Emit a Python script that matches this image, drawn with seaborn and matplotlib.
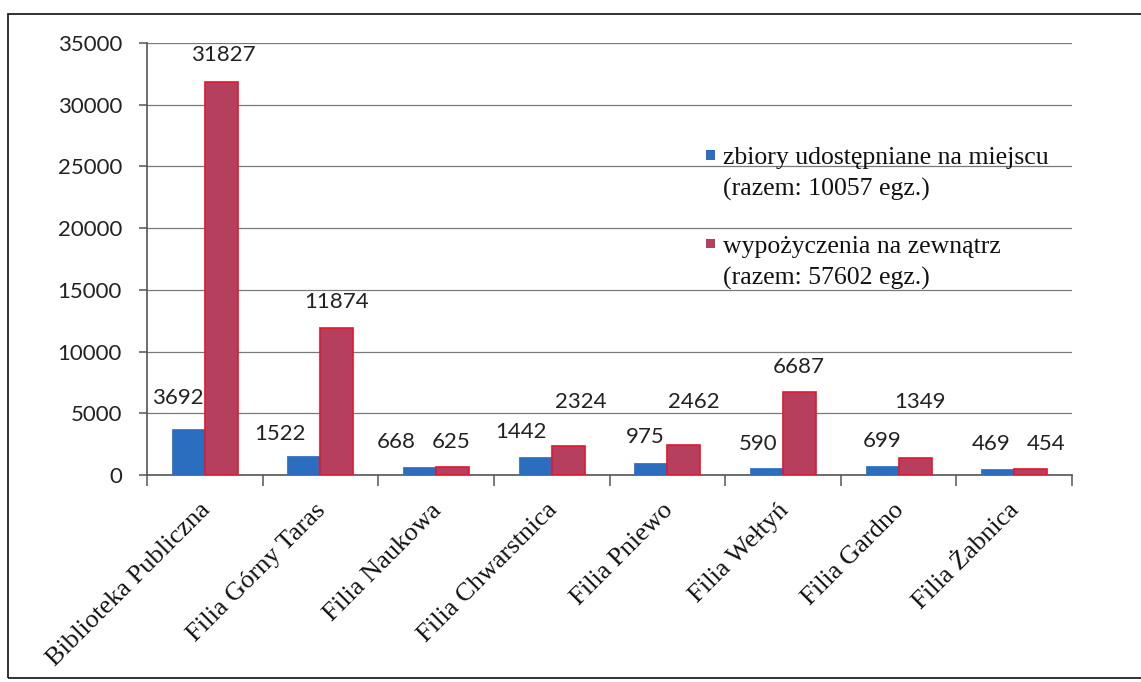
import numpy as np
import pandas as pd
import matplotlib
matplotlib.use("Agg")
import matplotlib.pyplot as plt
import matplotlib.transforms as mtransforms
from matplotlib.patches import Rectangle
from matplotlib.legend_handler import HandlerPatch
import seaborn as sns

# ---- data ----
categories = ["Biblioteka Publiczna", "Filia Górny Taras", "Filia Naukowa",
              "Filia Chwarstnica", "Filia Pniewo", "Filia Wełtyń",
              "Filia Gardno", "Filia Żabnica"]
onsite = [3692, 1522, 668, 1442, 975, 590, 699, 469]
loans = [31827, 11874, 625, 2324, 2462, 6687, 1349, 454]
series_names = ["zbiory udostępniane na miejscu\n(razem: 10057 egz.)",
                "wypożyczenia na zewnątrz\n(razem: 57602 egz.)"]
yticks = [0, 5000, 10000, 15000, 20000, 25000, 30000, 35000]

# ---- style (label offsets in pixels, relative to bar top) ----
lbl_dx = [[-11, -24, -23, -14, -6, -8, 0, -7],
          [2, 0, -1, 13, 10, -1, 5, 15]]
lbl_dy = [[31, 22, 25, 25, 26, 24, 25, 25],
          [27, 26, 25, 44, 43, 25, 56, 25]]
BLUE = "#2b6dbf"
RED = "#b53f5d"
SERIF = "Liberation Serif"
SANS = "Lato"
NUM_SIZE = 16
SERIF_SIZE = 18.5
XLAB_SIZE = 19

sns.set_theme(style="white")
plt.rcParams["font.family"] = ["DejaVu Sans"]

df = pd.DataFrame({
    "placowka": categories * 2,
    "liczba": onsite + loans,
    "rodzaj": [series_names[0]] * len(categories) + [series_names[1]] * len(categories),
})

fig = plt.figure(figsize=(11.41, 6.82), dpi=100)
W, H = 1141, 682
ax = fig.add_axes([147 / W, 1 - 475 / H, (1072 - 147) / W, (475 - 43) / H])

sns.barplot(data=df, x="placowka", y="liczba", hue="rodzaj",
            palette=[BLUE, RED], width=0.57, gap=0, saturation=1,
            legend=False, ax=ax, zorder=3)

# edges
for p in ax.containers[0]:
    p.set_edgecolor("#3a78c6"); p.set_linewidth(0.6)
for p in ax.containers[1]:
    p.set_edgecolor("#e3172f"); p.set_linewidth(1.2)

ax.set_xlim(-0.5, len(categories) - 0.5)
ax.set_ylim(0, 35000)
ax.set_yticks(yticks)
ax.set_yticklabels([str(v) for v in yticks], fontfamily=SANS, fontsize=NUM_SIZE, color="#222222")
ax.set_xlabel(""); ax.set_ylabel("")

# grid
ax.yaxis.grid(True, color="#7a7a7a", linewidth=0.9, zorder=0)
ax.xaxis.grid(False)
ax.set_axisbelow(True)

for s in ["top", "right"]:
    ax.spines[s].set_visible(False)
for s in ["left", "bottom"]:
    ax.spines[s].set_visible(True)
    ax.spines[s].set_color("#555555")
    ax.spines[s].set_linewidth(1.2)

ax.tick_params(axis="y", which="major", left=True, length=6, width=1.1,
               color="#555555", pad=12, direction="out")
ax.set_xticks(np.arange(-0.5, len(categories), 1), minor=True)
ax.tick_params(axis="x", which="minor", bottom=True, length=8, width=1.1,
               color="#555555", direction="out")
ax.tick_params(axis="x", which="major", bottom=True, length=0, pad=23)

offset = mtransforms.ScaledTranslation(2 / 100, 0, fig.dpi_scale_trans)
for lab in ax.get_xticklabels():
    lab.set_fontfamily(SERIF)
    lab.set_fontsize(XLAB_SIZE)
    lab.set_color("#111111")
    lab.set_rotation(45)
    lab.set_ha("right")
    lab.set_va("center")
    lab.set_rotation_mode("anchor")
    lab.set_transform(lab.get_transform() + offset)

# data labels
for si, cont in enumerate(ax.containers):
    for bi, bar in enumerate(cont):
        val = bar.get_height()
        ax.annotate(f"{int(round(val))}",
                    (bar.get_x() + bar.get_width() / 2, val),
                    xytext=(lbl_dx[si][bi], lbl_dy[si][bi]),
                    textcoords="offset pixels", ha="center", va="center",
                    fontfamily=SANS, fontsize=NUM_SIZE, color="#222222",
                    annotation_clip=False, zorder=5)


# legend with square marker aligned to first line
class FirstLineSquare(HandlerPatch):
    def create_artists(self, legend, orig_handle, xdescent, ydescent,
                       width, height, fontsize, trans):
        s = 0.36 * fontsize
        r = Rectangle((-xdescent + (width - s) / 2,
                       -ydescent + height / 2 - s / 2 + 0.72 * fontsize),
                      s, s, facecolor=orig_handle.get_facecolor(),
                      edgecolor="none", transform=trans)
        return [r]


handles = [Rectangle((0, 0), 1, 1, facecolor=BLUE),
           Rectangle((0, 0), 1, 1, facecolor=RED)]
leg = ax.legend(handles, series_names, loc="upper left",
                bbox_to_anchor=(705 / W, 1 - 147 / H),
                bbox_transform=fig.transFigure, frameon=False,
                prop={"family": SERIF, "size": SERIF_SIZE}, handlelength=0.45,
                handletextpad=0.25, labelspacing=1.36, borderpad=0,
                borderaxespad=0,
                handler_map={Rectangle: FirstLineSquare()})
for t in leg.get_texts():
    t.set_color("#111111")
    t.set_linespacing(1.5)

# outer frame of the scanned figure
frame = Rectangle((8 / W, 1 - 678 / H), 1.2, (678 - 14) / H,
                  transform=fig.transFigure, fill=False,
                  edgecolor="#222222", linewidth=1.3, clip_on=False)
fig.patches.append(frame)

fig.savefig("out.png", dpi=100, facecolor="white")
